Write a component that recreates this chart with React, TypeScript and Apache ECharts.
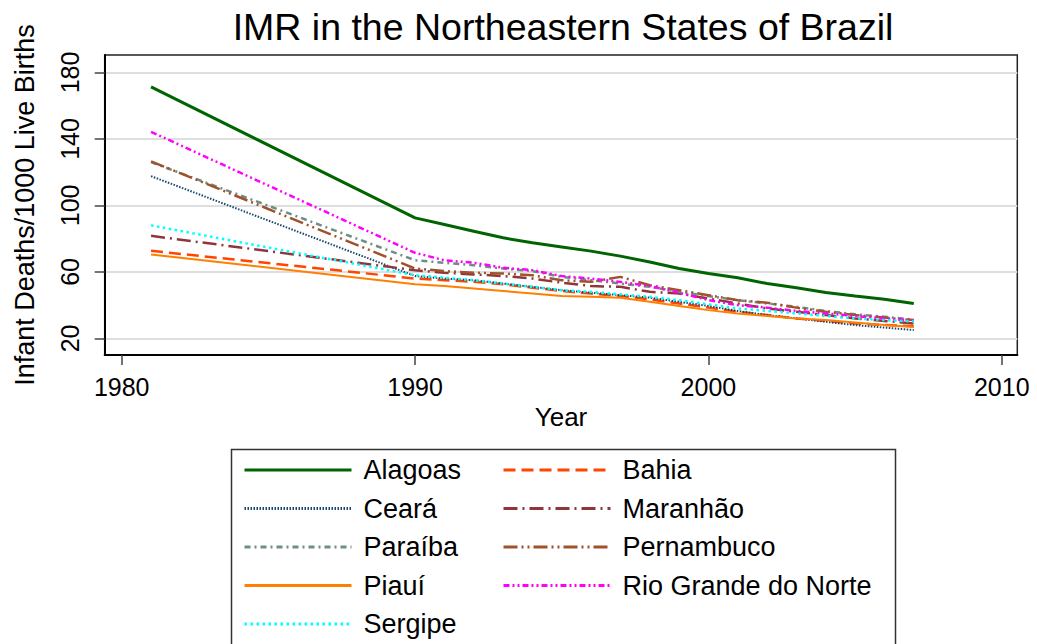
import React, { useEffect, useRef } from "react";
import * as echarts from "echarts";

const years = [1981, 1990, 1991, 1992, 1993, 1994, 1995, 1996, 1997, 1998, 1999, 2000, 2001, 2002, 2003, 2004, 2005, 2006, 2007];

const alagoas = [171.3, 92.5, 88.5, 84.5, 80.5, 77.5, 75, 72.5, 69.5, 66, 62, 59, 56.5, 53, 50.4, 47.6, 45.5, 43.5, 41];
const bahia = [72.7, 56, 55, 54, 52.5, 50.5, 48.5, 47, 45.5, 43.5, 41, 38.5, 36, 34, 32, 30.5, 29, 28, 27.3];
const ceara = [117.6, 57.5, 56, 55, 53, 51, 49, 47.5, 46, 44.5, 42, 39.5, 36.5, 34, 32, 30, 28, 26.5, 25];
const maranhao = [81.7, 61, 59.5, 58.5, 57.5, 56, 53.5, 51.5, 51, 48, 47, 44, 41, 38, 36, 34, 32, 30.5, 29];
const paraiba = [126, 67, 65.5, 64, 62, 60.5, 57, 55, 53, 51, 48, 45.5, 43, 41, 39, 36.5, 34.5, 33, 31.3];
const pernambuco = [126.5, 62, 60.5, 59.5, 59, 58, 55, 54, 57, 52, 49, 46, 43, 41.5, 38.5, 36, 34, 32.5, 31];
const piaui = [70.5, 52.5, 51.5, 50, 48.5, 47, 45.5, 45, 44.5, 42, 39.5, 37, 35, 33.5, 32, 31, 29.5, 28, 26.8];
const rioGrandeDoNorte = [144.3, 71.5, 67, 65.5, 62.5, 61, 57.5, 56, 54, 51.5, 47.5, 43, 40, 38.5, 36.5, 35, 33.5, 32, 30.6];
const sergipe = [88, 58, 56.5, 55, 53, 51, 49, 48, 46.5, 45, 43, 40.5, 38, 36.5, 35, 33.5, 32, 31, 30.2];

const xTicks = [1980, 1990, 2000, 2010];
const yTicks = [20, 60, 100, 140, 180];

const stateNames = ["Alagoas", "Bahia", "Ceará", "Maranhão", "Paraíba", "Pernambuco", "Piauí", "Rio Grande do Norte", "Sergipe"];
const stateValues = [alagoas, bahia, ceara, maranhao, paraiba, pernambuco, piaui, rioGrandeDoNorte, sergipe];
const legendCol1 = ["Alagoas", "Ceará", "Paraíba", "Piauí", "Sergipe"];
const legendCol2 = ["Bahia", "Maranhão", "Pernambuco", "Rio Grande do Norte"];

const styles: Record<string, { color: string; width: number; type: any }> = {
  "Alagoas": { color: "#006400", width: 3, type: "solid" },
  "Bahia": { color: "#ff4500", width: 2.5, type: [12, 6] },
  "Ceará": { color: "#1a476f", width: 2, type: [1.5, 1.5] },
  "Maranhão": { color: "#90353b", width: 2.5, type: [14, 5, 2, 5] },
  "Paraíba": { color: "#6e8e84", width: 2.5, type: [6, 4, 2, 4] },
  "Pernambuco": { color: "#a0522d", width: 2.5, type: [14, 4, 2, 4, 2, 4] },
  "Piauí": { color: "#ff7f00", width: 2, type: "solid" },
  "Rio Grande do Norte": { color: "#ff00ff", width: 2.5, type: [6, 3, 2, 3, 2, 3] },
  "Sergipe": { color: "#00ffff", width: 2.5, type: [2.5, 3.5] },
};

const FONT = "Liberation Sans, Arial, sans-serif";

export default function App() {
  const ref = useRef<HTMLDivElement>(null);
  useEffect(() => {
    if (!ref.current) return;
    const chart = echarts.init(ref.current, null, { renderer: "svg" });
    const series = stateNames.map((name, i) => ({
      name,
      type: "line",
      symbol: "none",
      showSymbol: false,
      data: years.map((y, j) => [y, stateValues[i][j]]),
      lineStyle: { color: styles[name].color, width: styles[name].width, type: styles[name].type },
      itemStyle: { color: styles[name].color },
    }));
    const legendCommon = {
      orient: "vertical",
      top: 455,
      padding: 0,
      itemWidth: 107,
      itemHeight: 14,
      itemGap: 8.5,
      itemStyle: { opacity: 0, borderWidth: 0 },
      lineStyle: { width: 3 },
      textStyle: { fontSize: 27, lineHeight: 30, color: "#000", fontFamily: FONT, padding: [0, 0, 0, 7] },
      selectedMode: false,
    };
    chart.setOption({
      animation: false,
      backgroundColor: "#ffffff",
      title: {
        text: "IMR in the Northeastern States of Brazil",
        left: 558,
        textAlign: "center",
        top: 3,
        textStyle: { fontSize: 37.5, fontWeight: "normal", color: "#000", fontFamily: FONT },
      },
      grid: {
        left: 104.7,
        right: 19.7,
        top: 55,
        bottom: 289,
        show: true,
        borderColor: "#222",
        borderWidth: 1.5,
        containLabel: false,
      },
      legend: [
        { ...legendCommon, left: 243, data: legendCol1 },
        { ...legendCommon, left: 502, data: legendCol2 },
      ],
      graphic: [
        {
          type: "rect",
          left: 229,
          top: 447,
          shape: { width: 664, height: 260 },
          style: { fill: "none", stroke: "#333", lineWidth: 1.5 },
          silent: true,
        },
      ],
      xAxis: {
        type: "value",
        min: 1979.42,
        max: 2010.53,
        name: "Year",
        nameLocation: "middle",
        nameGap: 49,
        nameTextStyle: { fontSize: 26, color: "#000", fontFamily: FONT },
        axisLine: { show: true, lineStyle: { color: "#000", width: 2 } },
        axisTick: { show: true, length: 10, customValues: xTicks, lineStyle: { color: "#444", width: 1.5 } },
        axisLabel: {
          customValues: xTicks,
          fontSize: 25,
          color: "#000",
          margin: 19,
          fontFamily: FONT,
          formatter: (v: number) => String(v),
        },
        splitLine: { show: false },
      },
      yAxis: {
        type: "value",
        min: 10,
        max: 190.5,
        name: "Infant Deaths/1000 Live Births",
        nameLocation: "middle",
        nameGap: 66,
        nameTextStyle: { fontSize: 27, color: "#000", fontFamily: FONT },
        axisLine: { show: true, lineStyle: { color: "#000", width: 2 } },
        axisTick: { show: true, length: 10, customValues: yTicks, lineStyle: { color: "#444", width: 1.5 } },
        axisLabel: {
          customValues: yTicks,
          rotate: 90,
          fontSize: 25,
          color: "#000",
          margin: 22,
          fontFamily: FONT,
          formatter: (v: number) => String(v),
        },
        splitLine: { show: true, lineStyle: { color: "#dedede", width: 2 } },
      },
      series,
    });
    return () => chart.dispose();
  }, []);
  return (
    <div
      ref={ref}
      style={{ position: "absolute", left: 0, top: 0, width: 1037, height: 644, background: "#fff" }}
    />
  );
}
